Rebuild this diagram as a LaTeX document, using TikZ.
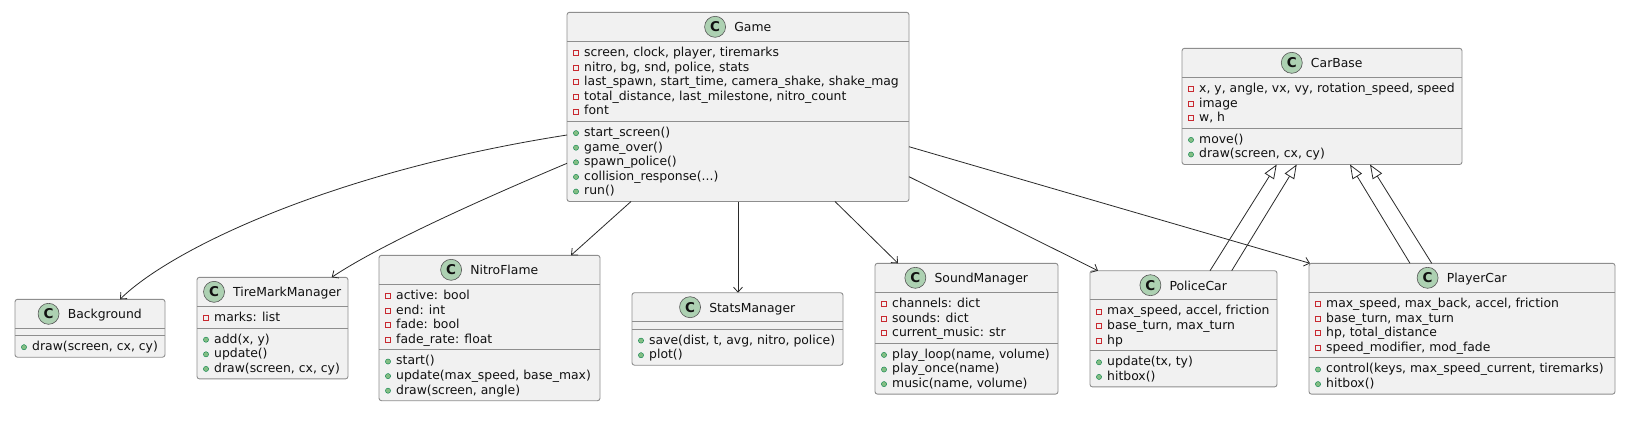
\documentclass[tikz,border=0pt]{standalone}
\usepackage{fontspec}
\setmainfont{DejaVu Sans}
\usetikzlibrary{arrows.meta,calc}
\definecolor{boxfill}{HTML}{F1F1F1}
\definecolor{boxline}{HTML}{8E8E8E}
\definecolor{edgeline}{HTML}{2A2A2A}
\definecolor{spotfill}{HTML}{ADD1B2}
\definecolor{spotline}{HTML}{555555}
\definecolor{privred}{HTML}{C82930}
\definecolor{pubfill}{HTML}{84BE84}
\definecolor{publine}{HTML}{038048}
\definecolor{txt}{HTML}{111111}
\tikzset{
  classbox/.style={draw=boxline, fill=boxfill, line width=0.9pt, rounded corners=2.5pt, inner sep=0pt, outer sep=0pt},
  sepline/.style={draw=boxline, line width=0.8pt},
  spot/.style={circle, draw=spotline, fill=spotfill, line width=0.6pt, minimum size=21pt, inner sep=0pt, text=txt, font=\fontsize{13.5}{13.5}\selectfont\bfseries},
  classname/.style={anchor=base, inner sep=0pt, text=txt, font=\fontsize{12.4}{14.6}\selectfont},
  member/.style={anchor=base west, inner sep=0pt, text=txt, font=\fontsize{12.4}{14.6}\selectfont},
  privicon/.style={draw=privred, line width=0.6pt, fill=none},
  pubicon/.style={draw=publine, fill=pubfill, line width=0.4pt},
  assoc/.style={draw=edgeline, line width=0.8pt, -{Straight Barb[length=5pt,width=9pt]}},
  inherit/.style={draw=edgeline, line width=0.8pt, -{Triangle[open,length=14pt,width=11pt]}},
}
% #1 id, #2 left, #3 top, #4 right, #5 name, #6 nA, #7 attrs, #8 nM, #9 methods
\newcommand\umlclass[9]{%
  \pgfmathsetmacro\cL{#2}%
  \pgfmathsetmacro\cR{#4}%
  \pgfmathsetmacro\cT{#3}%
  \pgfmathsetmacro\sA{#3+29}%
  \pgfmathsetmacro\sB{\sA+ifthenelse(#6==0,7.2,14.6*#6+7.1)}%
  \pgfmathsetmacro\cB{\sB+ifthenelse(#8==0,7.2,14.6*#8+7.1)}%
  \pgfmathsetmacro\cW{\cR-\cL}%
  \pgfmathsetmacro\cH{\cB-\cT}%
  \node[classbox, minimum width=\cW pt, minimum height=\cH pt] (#1) at ({(\cL+\cR)/2},{(\cT+\cB)/2}) {};
  \draw[sepline] (\cL,\sA) -- (\cR,\sA);
  \draw[sepline] (\cL,\sB) -- (\cR,\sB);
  \pgfmathsetmacro\hM{\cT+14.5}%
  \node[classname] (#1-name) at ({(\cL+\cR)/2+14.75},{\hM+4.8}) {#5};
  \path (#1-name.base west) ++(-19,-4.8) node[spot] (#1-spot) {C};
  \ifnum#6>0\relax
    \foreach \t [count=\i] in {#7} {
      \pgfmathsetmacro\yy{\sA+11.7+14.6*(\i-1)}
      \draw[privicon] (\cL+6.5,\yy-2.5) rectangle (\cL+11.5,\yy+2.5);
      \node[member] (#1-a\i) at (\cL+17,\yy+3.4) {\t};
    }
  \fi
  \ifnum#8>0\relax
    \foreach \t [count=\i] in {#9} {
      \pgfmathsetmacro\yy{\sB+11.7+14.6*(\i-1)}
      \fill[pubicon] (\cL+9,\yy) circle (2.6);
      \node[member] (#1-m\i) at (\cL+17,\yy+3.4) {\t};
    }
  \fi
}
\begin{document}
\begin{tikzpicture}[x=1pt,y=-1pt]
\fill[white] (0,0) rectangle (1640,432);
\useasboundingbox (0,0) rectangle (1640,432);

\umlclass{game}{567}{12.3}{909}{Game}{5}{{screen, clock, player, tiremarks},{nitro, bg, snd, police, stats},{last\_spawn, start\_time, camera\_shake, shake\_mag},{total\_distance, last\_milestone, nitro\_count},{font}}{5}{{start\_screen()},{game\_over()},{spawn\_police()},{collision\_response(.{}.{}.)},{run()}}

\umlclass{carbase}{1182}{48.3}{1462}{CarBase}{3}{{x, y, angle, vx, vy, rotation\_speed, speed},{image},{w, h}}{2}{{move()},{draw(screen, cx, cy)}}

\umlclass{background}{15}{299.3}{165}{Background}{0}{}{1}{{draw(screen, cx, cy)}}

\umlclass{tire}{197}{277.3}{348}{TireMarkManager}{1}{{marks: list}}{3}{{add(x, y)},{update()},{draw(screen, cx, cy)}}

\umlclass{nitro}{379}{255.3}{600}{NitroFlame}{4}{{active: bool},{end: int},{fade: bool},{fade\_rate: float}}{3}{{start()},{update(max\_speed, base\_max)},{draw(screen, angle)}}

\umlclass{stats}{632}{292.7}{843}{StatsManager}{0}{}{2}{{save(dist, t, avg, nitro, police)},{plot()}}

\umlclass{sound}{875}{263.3}{1058}{SoundManager}{3}{{channels: dict},{sounds: dict},{current\_music: str}}{3}{{play\_loop(name, volume)},{play\_once(name)},{music(name, volume)}}

\umlclass{police}{1090}{270.7}{1277}{PoliceCar}{3}{{max\_speed, accel, friction},{base\_turn, max\_turn},{hp}}{2}{{update(tx, ty)},{hitbox()}}

\umlclass{player}{1309}{263.3}{1615}{PlayerCar}{4}{{max\_speed, max\_back, accel, friction},{base\_turn, max\_turn},{hp, total\_distance},{speed\_modifier, mod\_fade}}{2}{{control(keys, max\_speed\_current, tiremarks)},{hitbox()}}

% associations
\draw[assoc] ($(game.north west)+(0,122.7)$) .. controls (330,172) and (170,250) .. ($(background.north west)+(105,0)$);
\draw[assoc] ($(game.north west)+(0,151)$) .. controls (480,200) and (380,245) .. ($(tire.north west)+(134.7,0)$);
\draw[assoc] ($(game.south west)+(64,0)$) -- ($(nitro.north west)+(192,0)$);
\draw[assoc] (game.south) -- (game.south |- stats.north);
\draw[assoc] ($(game.south west)+(268,0)$) -- ($(sound.north west)+(23,0)$);
\draw[assoc] ($(game.north east)+(0,164.4)$) -- ($(police.north west)+(8,0)$);
\draw[assoc] ($(game.north east)+(0,134.4)$) -- ($(player.north west)+(1,0)$);

% inheritance
\draw[inherit] ($(police.north west)+(120,0)$) -- ($(carbase.south west)+(94.7,0)$);
\draw[inherit] ($(police.north west)+(141.7,0)$) -- ($(carbase.south west)+(114.7,0)$);
\draw[inherit] ($(player.north west)+(101,0)$) -- ($(carbase.south west)+(168,0)$);
\draw[inherit] ($(player.north west)+(122.7,0)$) -- ($(carbase.south west)+(188,0)$);
\end{tikzpicture}
\end{document}
